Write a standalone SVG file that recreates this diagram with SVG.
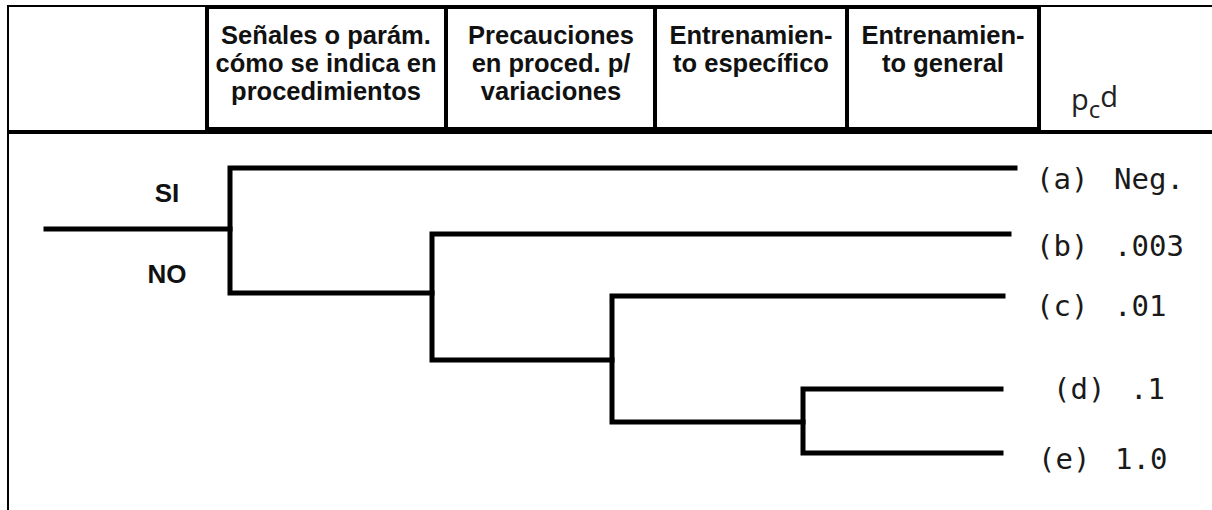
<svg xmlns="http://www.w3.org/2000/svg" width="1212" height="510" viewBox="0 0 1212 510">
  <style>
    .frame { stroke: #000; stroke-width: 2; fill: none; }
    .sep { stroke: #000; stroke-width: 4; fill: none; }
    .box { stroke: #000; stroke-width: 4; fill: #fff; }
    .hdr { font-family: "Liberation Sans", Arial, sans-serif; font-weight: bold; font-size: 25.5px; fill: #111; text-anchor: middle; }
    .yn { font-family: "Liberation Sans", Arial, sans-serif; font-weight: bold; font-size: 26px; fill: #111; text-anchor: middle; }
    .leaf { font-family: "DejaVu Sans Mono", "Liberation Mono", monospace; font-size: 29px; fill: #1a1a1a; }
    .pcd { font-family: "Open Sans", "Noto Sans", sans-serif; fill: #222; }
    .edge { stroke: #000; stroke-width: 5; fill: none; stroke-linecap: square; stroke-linejoin: miter; }
  </style>
  <rect width="1212" height="510" fill="#fff"/>
  <g id="frame">
    <line class="frame" x1="7" y1="6" x2="1212" y2="6"/>
    <line class="frame" x1="8" y1="5" x2="8" y2="510"/>
    <line class="sep" x1="7" y1="132" x2="1212" y2="132"/>
  </g>
  <g id="col-senales">
    <rect class="box" x="207" y="7" width="239" height="122"/>
    <text class="hdr" x="326" y="44">Señales o parám.</text>
    <text class="hdr" x="326" y="72">cómo se indica en</text>
    <text class="hdr" x="326" y="100">procedimientos</text>
  </g>
  <g id="col-precauciones">
    <rect class="box" x="446" y="7" width="209" height="122"/>
    <text class="hdr" x="551" y="44">Precauciones</text>
    <text class="hdr" x="551" y="72">en proced. p/</text>
    <text class="hdr" x="551" y="100">variaciones</text>
  </g>
  <g id="col-especifico">
    <rect class="box" x="655" y="7" width="192" height="122"/>
    <text class="hdr" x="751" y="44">Entrenamien-</text>
    <text class="hdr" x="751" y="72">to específico</text>
  </g>
  <g id="col-general">
    <rect class="box" x="847" y="7" width="192" height="122"/>
    <text class="hdr" x="943" y="44">Entrenamien-</text>
    <text class="hdr" x="943" y="72">to general</text>
  </g>
  <g id="col-pcd">
    <text class="pcd" x="1071" y="110" font-size="29">p<tspan font-size="24" dy="8">c</tspan><tspan font-size="29" dy="-11">d</tspan></text>
  </g>
  <g id="root-labels">
    <text class="yn" x="167" y="202">SI</text>
    <text class="yn" x="167" y="283">NO</text>
  </g>
  <g id="connectors">
    <path class="edge" d="M46 229 H230"/>
    <path class="edge" d="M1015 168 H230 V293 H432"/>
    <path class="edge" d="M1009 234 H432 V360 H612"/>
    <path class="edge" d="M1003 296 H612 V422 H803"/>
    <path class="edge" d="M1001 389 H803 V453 H1001"/>
  </g>
  <g id="leaf-a"><text class="leaf" y="189"><tspan x="1036">(a)</tspan><tspan x="1114">Neg.</tspan></text></g>
  <g id="leaf-b"><text class="leaf" y="256"><tspan x="1036">(b)</tspan><tspan x="1114">.003</tspan></text></g>
  <g id="leaf-c"><text class="leaf" y="316"><tspan x="1036">(c)</tspan><tspan x="1114">.01</tspan></text></g>
  <g id="leaf-d"><text class="leaf" y="399"><tspan x="1053">(d)</tspan><tspan x="1130">.1</tspan></text></g>
  <g id="leaf-e"><text class="leaf" y="469"><tspan x="1038">(e)</tspan><tspan x="1115">1.0</tspan></text></g>
</svg>
